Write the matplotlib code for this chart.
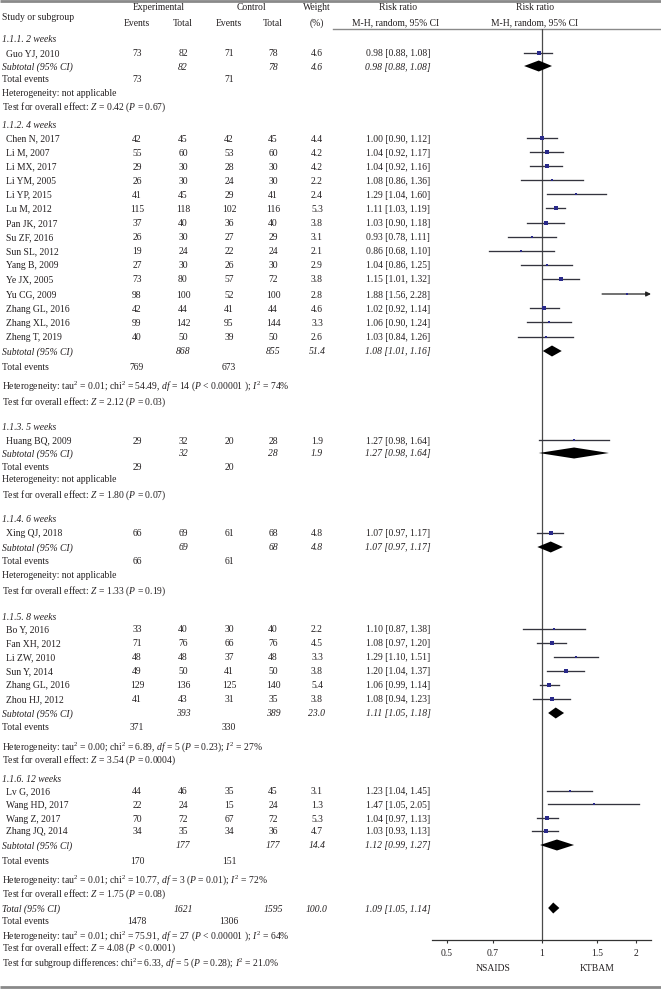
import matplotlib
matplotlib.use('Agg')
import matplotlib.pyplot as plt
import numpy as np

plt.rcParams['font.family'] = ['Liberation Serif', 'DejaVu Serif']
plt.rcParams['mathtext.fontset'] = 'custom'
plt.rcParams['mathtext.rm'] = 'Liberation Serif'
plt.rcParams['mathtext.it'] = 'Liberation Serif:italic'
plt.rcParams['mathtext.bf'] = 'Liberation Serif:bold'

# ---------------- data ----------------
group_labels = ["1.1.1. 2 weeks", "1.1.2. 4 weeks", "1.1.3. 5 weeks",
                "1.1.4. 6 weeks", "1.1.5. 8 weeks", "1.1.6. 12 weeks"]

study_names = ["Guo YJ, 2010",
               "Chen N, 2017", "Li M, 2007", "Li MX, 2017", "Li YM, 2005", "Li YP, 2015",
               "Lu M, 2012", "Pan JK, 2017", "Su ZF, 2016", "Sun SL, 2012", "Yang B, 2009",
               "Ye JX, 2005", "Yu CG, 2009", "Zhang GL, 2016", "Zhang XL, 2016", "Zheng T, 2019",
               "Huang BQ, 2009",
               "Xing QJ, 2018",
               "Bo Y, 2016", "Fan XH, 2012", "Li ZW, 2010", "Sun Y, 2014", "Zhang GL, 2016",
               "Zhou HJ, 2012",
               "Lv G, 2016", "Wang HD, 2017", "Wang Z, 2017", "Zhang JQ, 2014"]
study_group = [0] + [1] * 15 + [2] + [3] + [4] * 6 + [5] * 4
exp_events = [73, 42, 55, 29, 26, 41, 115, 37, 26, 19, 27, 73, 98, 42, 99, 40,
              29, 66, 33, 71, 48, 49, 129, 41, 44, 22, 70, 34]
exp_total = [82, 45, 60, 30, 30, 45, 118, 40, 30, 24, 30, 80, 100, 44, 142, 50,
             32, 69, 40, 76, 48, 50, 136, 43, 46, 24, 72, 35]
ctl_events = [71, 42, 53, 28, 24, 29, 102, 36, 27, 22, 26, 57, 52, 41, 95, 39,
              20, 61, 30, 66, 37, 41, 125, 31, 35, 15, 67, 34]
ctl_total = [78, 45, 60, 30, 30, 41, 116, 40, 29, 24, 30, 72, 100, 44, 144, 50,
             28, 68, 40, 76, 48, 50, 140, 35, 45, 24, 72, 36]
weight = [4.6, 4.4, 4.2, 4.2, 2.2, 2.4, 5.3, 3.8, 3.1, 2.1, 2.9, 3.8, 2.8, 4.6, 3.3, 2.6,
          1.9, 4.8, 2.2, 4.5, 3.3, 3.8, 5.4, 3.8, 3.1, 1.3, 5.3, 4.7]
rr = [0.98, 1.00, 1.04, 1.04, 1.08, 1.29, 1.11, 1.03, 0.93, 0.86, 1.04, 1.15, 1.88, 1.02, 1.06, 1.03,
      1.27, 1.07, 1.10, 1.08, 1.29, 1.20, 1.06, 1.08, 1.23, 1.47, 1.04, 1.03]
rr_lo = [0.88, 0.90, 0.92, 0.92, 0.86, 1.04, 1.03, 0.90, 0.78, 0.68, 0.86, 1.01, 1.56, 0.92, 0.90, 0.84,
         0.98, 0.97, 0.87, 0.97, 1.10, 1.04, 0.99, 0.94, 1.04, 1.05, 0.97, 0.93]
rr_hi = [1.08, 1.12, 1.17, 1.16, 1.36, 1.60, 1.19, 1.18, 1.11, 1.10, 1.25, 1.32, 2.28, 1.14, 1.24, 1.26,
         1.64, 1.17, 1.38, 1.20, 1.51, 1.37, 1.14, 1.23, 1.45, 2.05, 1.13, 1.13]

sub_label = ["Subtotal (95% CI)"] * 5 + ["Subtotal (95% Cl)"]
sub_exp_total = [82, 868, 32, 69, 393, 177]
sub_ctl_total = [78, 855, 28, 68, 389, 177]
sub_exp_events = [73, 769, 29, 66, 371, 170]
sub_ctl_events = [71, 673, 20, 61, 330, 151]
sub_weight = [4.6, 51.4, 1.9, 4.8, 23.0, 14.4]
sub_rr = [0.98, 1.08, 1.27, 1.07, 1.11, 1.12]
sub_lo = [0.88, 1.01, 0.98, 0.97, 1.05, 0.99]
sub_hi = [1.08, 1.16, 1.64, 1.17, 1.18, 1.27]
sub_het = ["Heterogeneity: not applicable",
           r"Heterogeneity: tau$^2$ = 0.01; chi$^2$ = 54.49, $df$ = 14 ($P$ < 0.00001 ); $I^2$ = 74%",
           "Heterogeneity: not applicable",
           "Heterogeneity: not applicable",
           r"Heterogeneity: tau$^2$ = 0.00; chi$^2$ = 6.89, $df$ = 5 ($P$ = 0.23); $I^2$ = 27%",
           r"Heterogeneity: tau$^2$ = 0.01; chi$^2$ = 10.77, $df$ = 3 ($P$ = 0.01); $I^2$ = 72%"]
sub_z = ["0.42", "2.12", "1.80", "1.33", "3.54", "1.75"]
sub_p = ["= 0.67", "= 0.03", "= 0.07", "= 0.19", "= 0.0004", "= 0.08"]

tot_exp_total, tot_ctl_total, tot_weight = 1621, 1595, 100.0
tot_exp_events, tot_ctl_events = 1478, 1306
tot_rr, tot_lo, tot_hi = 1.09, 1.05, 1.14
tot_het = r"Heterogeneity: tau$^2$ = 0.01; chi$^2$ = 75.91, $df$ = 27 ($P$ < 0.00001 ); $I^2$ = 64%"
tot_test = r"Test for overall effect: $Z$ = 4.08 ($P$ < 0.0001)"
subgroup_diff = r"Test for subgroup differences: chi$^2$= 6.33, $df$ = 5 ($P$ = 0.28); $I^2$ = 21.0%"

xticks = [0.5, 0.7, 1, 1.5, 2]
xtick_labels = ["0.5", "0.7", "1", "1.5", "2"]
favours = ["NSAIDS", "KTBAM"]

# ---------------- layout (pixel rows) ----------------
W, H = 661, 992
FS = 6.9
TXT = '#231f20'
head_y = [39, 125, 427, 519, 616, 778]
study_y = [53,
           138, 152, 166, 180, 194, 208, 223, 237, 251, 265, 279, 294, 308, 322, 337,
           440, 533,
           629, 643, 657, 671, 685, 699,
           791, 804, 818, 831]
sub_y = [66, 351, 453, 547, 713, 845]
te_y = [79, 366, 466, 561, 727, 861]
het_y = [92, 384, 479, 575, 745, 878]
test_y = [105, 400, 493, 589, 758, 892]
tot_y, tot_te_y, tot_het_y, tot_test_y, diff_y = 908, 921, 934, 946, 961
col_ee, col_et, col_ce, col_ct, col_w, col_rr = 137, 183, 229, 273, 317, 398
ax_left, ax_right, ax_top, ax_bot = 432, 651, 29, 940
XMAX = 2.234

fig = plt.figure(figsize=(W / 100, H / 100), dpi=100)
ax = fig.add_axes([0, 0, 1, 1])
ax.set_xlim(0, W)
ax.set_ylim(H, 0)
ax.axis('off')


def T(x, y, s, ha='left', style='normal', **kw):
    ax.text(x, y, s, ha=ha, va='center_baseline', fontsize=FS, color=TXT,
            style=style, **kw)


# rules
ax.plot([0, W], [1, 1], color='#8a8a8a', lw=2.0, solid_capstyle='butt')
ax.plot([333, W], [ax_top, ax_top], color='#8a8a8a', lw=1.0)
ax.plot([0, W], [987, 987], color='#8a8a8a', lw=2.0, solid_capstyle='butt')

# header
T(2, 16, "Study or subgroup")
T(159, 7, "Experimental", ha='center')
T(251, 7, "Control", ha='center')
for x, s in [(col_ee, "Events"), (col_et, "Total"), (col_ce, "Events"), (col_ct, "Total")]:
    T(x, 22, s, ha='center')
T(col_w, 7, "Weight", ha='center')
T(col_w, 22, "(%)", ha='center')
T(col_rr, 7, "Risk ratio", ha='center')
T(col_rr - 2, 22, "M-H, random, 95% CI", ha='center')
T(535, 7, "Risk ratio", ha='center')
T(535, 22, "M-H, random, 95% CI", ha='center')

# forest axes
fa = fig.add_axes([ax_left / W, 1 - ax_bot / H, (ax_right - ax_left) / W, (ax_bot - ax_top) / H])
fa.patch.set_alpha(0)
fa.set_xscale('log')
fa.set_xlim(1 / XMAX, XMAX)
fa.set_ylim(ax_bot, ax_top)
for sp in ['top', 'left', 'right']:
    fa.spines[sp].set_visible(False)
fa.spines['bottom'].set_color('#333333')
fa.spines['bottom'].set_linewidth(0.9)
fa.set_yticks([])
fa.set_xticks(xticks)
fa.set_xticklabels(xtick_labels)
fa.xaxis.set_minor_locator(matplotlib.ticker.NullLocator())
fa.tick_params(axis='x', length=2.2, width=0.8, pad=4.0, labelsize=FS,
               colors='#333333', labelcolor=TXT)
fa.axvline(1, color='#4a4a4a', lw=0.9, zorder=1)
fa.text(0.7, 968, favours[0], ha='center', va='center_baseline', fontsize=FS, color=TXT)
fa.text(1.5, 968, favours[1], ha='center', va='center_baseline', fontsize=FS, color=TXT)

LINE = '#34343e'
MK = '#2a2a8a'
DH = 5.5


def diamond(lo, est, hi, y):
    fa.fill([lo, est, hi, est], [y, y - DH, y, y + DH], color='black', lw=0, zorder=3)


# studies
for i, name in enumerate(study_names):
    y = study_y[i]
    T(6, y, name)
    T(col_ee, y, str(exp_events[i]), ha='center')
    T(col_et, y, str(exp_total[i]), ha='center')
    T(col_ce, y, str(ctl_events[i]), ha='center')
    T(col_ct, y, str(ctl_total[i]), ha='center')
    T(col_w, y, f"{weight[i]:.1f}", ha='center')
    T(col_rr, y, f"{rr[i]:.2f} [{rr_lo[i]:.2f}, {rr_hi[i]:.2f}]", ha='center')
    if rr_hi[i] > XMAX:
        fa.annotate('', xy=(XMAX, y), xytext=(rr_lo[i], y),
                    arrowprops=dict(arrowstyle='-|>', color='#222222', lw=0.9,
                                    mutation_scale=7, shrinkA=0, shrinkB=0))
    else:
        fa.plot([rr_lo[i], rr_hi[i]], [y, y], color=LINE, lw=0.95, zorder=2)
    fa.plot(rr[i], y, 's', ms=1.3 + 0.25 * weight[i], color=MK, mec=MK, mew=0, zorder=4)

# subgroups
for g, lab in enumerate(group_labels):
    T(2, head_y[g], lab, style='italic')
    T(2, sub_y[g], sub_label[g], style='italic')
    T(col_et, sub_y[g], str(sub_exp_total[g]), ha='center', style='italic')
    T(col_ct, sub_y[g], str(sub_ctl_total[g]), ha='center', style='italic')
    T(col_w, sub_y[g], f"{sub_weight[g]:.1f}", ha='center', style='italic')
    T(col_rr, sub_y[g], f"{sub_rr[g]:.2f} [{sub_lo[g]:.2f}, {sub_hi[g]:.2f}]",
      ha='center', style='italic')
    diamond(sub_lo[g], sub_rr[g], sub_hi[g], sub_y[g])
    T(2, te_y[g], "Total events")
    T(col_ee, te_y[g], str(sub_exp_events[g]), ha='center')
    T(col_ce, te_y[g], str(sub_ctl_events[g]), ha='center')
    T(2, het_y[g], sub_het[g])
    T(2, test_y[g], r"Test for overall effect: $Z$ = " + sub_z[g] + r" ($P$ " + sub_p[g] + ")")

# overall
T(2, tot_y, "Total (95% CI)", style='italic')
T(col_et, tot_y, str(tot_exp_total), ha='center', style='italic')
T(col_ct, tot_y, str(tot_ctl_total), ha='center', style='italic')
T(col_w, tot_y, f"{tot_weight:.1f}", ha='center', style='italic')
T(col_rr, tot_y, f"{tot_rr:.2f} [{tot_lo:.2f}, {tot_hi:.2f}]", ha='center', style='italic')
diamond(tot_lo, tot_rr, tot_hi, tot_y)
T(2, tot_te_y, "Total events")
T(col_ee, tot_te_y, str(tot_exp_events), ha='center')
T(col_ce, tot_te_y, str(tot_ctl_events), ha='center')
T(2, tot_het_y, tot_het)
T(2, tot_test_y, tot_test)
T(2, diff_y, subgroup_diff)

fig.savefig('out.png', dpi=100)
